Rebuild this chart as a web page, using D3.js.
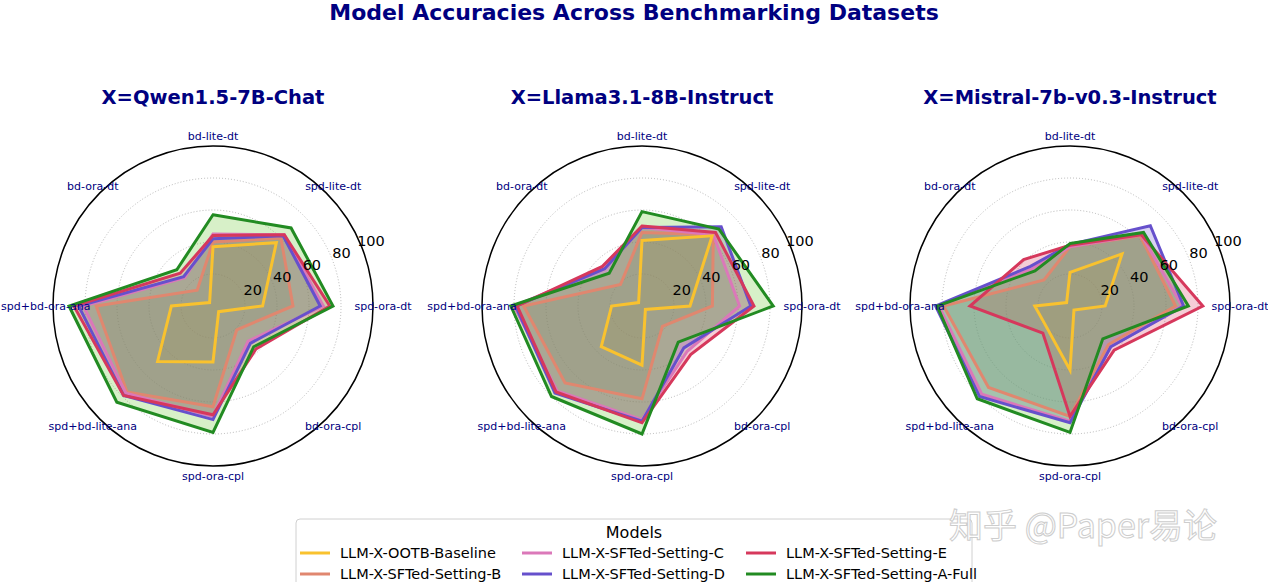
<!DOCTYPE html>
<html>
<head>
<meta charset="UTF-8">
<script src="https://cdnjs.cloudflare.com/ajax/libs/d3/7.8.5/d3.min.js"></script>
<style>
body {margin:0; background:#fff;}
svg text {font-family: "DejaVu Sans", sans-serif;}
.axis-label {font-size:11px; fill:#000080;}
.rtick {font-size:14.5px; fill:#000;}
.sub-title {font-size:19.5px; font-weight:bold; fill:#000080;}
.main-title {font-size:22px; font-weight:bold; fill:#000080;}
.legend text {font-size:14.5px; fill:#000;}
</style>
<title>Model Accuracies</title>
</head>
<body>
<svg id="chart" width="1268" height="582"></svg>
<script>
// benchmark axes, clockwise from top
var categories = ["bd-lite-dt", "spd-lite-dt", "spd-ora-dt", "bd-ora-cpl", "spd-ora-cpl", "spd+bd-lite-ana", "spd+bd-ora-ana", "bd-ora-dt"];
var models = ["LLM-X-OOTB-Baseline", "LLM-X-SFTed-Setting-B", "LLM-X-SFTed-Setting-C", "LLM-X-SFTed-Setting-D", "LLM-X-SFTed-Setting-E", "LLM-X-SFTed-Setting-A-Full"];
var panels = ["X=Qwen1.5-7B-Chat", "X=Llama3.1-8B-Instruct", "X=Mistral-7b-v0.3-Instruct"];
var rTicks = [20, 40, 60, 80, 100];

// one row per model (same order as models)
var qwenValues = [
    [37, 56, 31, 5, 35, 49, 26, 3],
    [40, 60, 50, 21, 63, 76, 73, 14],
    [45, 63, 69, 31, 69, 77, 81, 25],
    [42, 62, 67, 33, 71, 79, 84, 26],
    [44, 63, 73, 38, 68, 79, 87, 29],
    [57, 69, 75, 36, 79, 85, 90, 32]
];
var llamaValues = [
    [41, 62, 30, 3, 37, 36, 19, 3],
    [46, 63, 44, 18, 58, 68, 74, 19],
    [49, 63, 61, 40, 71, 75, 80, 33],
    [49, 70, 68, 37, 72, 77, 79, 33],
    [50, 65, 70, 43, 73, 76, 78, 35],
    [59, 68, 82, 32, 80, 80, 82, 29]
];
var mistralValues = [
    [21, 46, 22, 3.5, 40, 20, 22, 3],
    [37, 62, 66, 34, 69, 72, 79, 23],
    [37, 63, 70, 36, 72, 78, 82, 33],
    [38.5, 71, 71, 36, 73, 80, 84, 35],
    [38, 63, 83, 39, 69, 24, 62.5, 41],
    [39, 65, 74, 29, 79, 82, 83, 31]
];
var panelValues = [qwenValues, llamaValues, mistralValues];

var colors = ["#f9c22e", "#e0876f", "#db78b9", "#6650cc", "#d6385c", "#228b22"];
var fillColors = ["#f9c22e", "#7fa88c", "#6aa684", "#6650cc", "#d6385c", "#5fc323"];

var svg = d3.select("#chart");
var R = 160, cy = 306;
var centersX = [213, 642, 1070];

var r = d3.scaleLinear().domain([0, 100]).range([0, R]);
var angle = d3.scaleLinear().domain([0, categories.length]).range([0, 2 * Math.PI]);

var radar = d3.lineRadial()
    .angle(function(d, i) { return angle(i); })
    .radius(function(d) { return r(d); })
    .curve(d3.curveLinearClosed);

svg.append("text").attr("class", "main-title")
    .attr("x", 634).attr("y", 20).attr("text-anchor", "middle")
    .text("Model Accuracies Across Benchmarking Datasets");

panels.forEach(function(name, p) {
    var g = svg.append("g").attr("transform", "translate(" + centersX[p] + "," + cy + ")");

    svg.append("text").attr("class", "sub-title")
        .attr("x", centersX[p]).attr("y", 104).attr("text-anchor", "middle")
        .text(name);

    // grid rings
    g.selectAll(".ring").data(rTicks.slice(0, -1)).enter().append("circle")
        .attr("r", function(d) { return r(d); })
        .attr("fill", "none").attr("stroke", "#999").attr("stroke-width", 0.7)
        .attr("stroke-dasharray", "1,2");

    var vals = panelValues[p];

    // fills first, then outlines
    g.selectAll(".area").data(vals).enter().append("path")
        .attr("d", function(d) { return radar(d); })
        .attr("fill", function(d, i) { return fillColors[i]; })
        .attr("fill-opacity", 0.25)
        .attr("stroke", "none");

    var lineOrder = [1, 2, 3, 4, 5, 0];
    g.selectAll(".line").data(lineOrder).enter().append("path")
        .attr("d", function(i) { return radar(vals[i]); })
        .attr("fill", "none")
        .attr("stroke", function(i) { return colors[i]; })
        .attr("stroke-width", 3)
        .attr("stroke-linejoin", "miter");

    // outer frame
    g.append("circle").attr("r", r(100)).attr("fill", "none")
        .attr("stroke", "#000").attr("stroke-width", 1.5);

    // radial tick labels at 22.5 deg
    var ta = 22.5 * Math.PI / 180;
    g.selectAll(".rtick").data(rTicks).enter().append("text")
        .attr("class", "rtick")
        .attr("x", function(d) { return (r(d) + 11) * Math.cos(ta); })
        .attr("y", function(d) { return -(r(d) + 11) * Math.sin(ta); })
        .attr("text-anchor", "middle").attr("dy", "0.35em")
        .text(function(d) { return d; });

    // axis labels
    g.selectAll(".axis-label").data(categories).enter().append("text")
        .attr("class", "axis-label")
        .attr("x", function(d, i) { return (R + 10) * Math.sin(angle(i)); })
        .attr("y", function(d, i) { return -(R + 10) * Math.cos(angle(i)); })
        .attr("text-anchor", "middle").attr("dy", "0.35em")
        .text(function(d) { return d; })
        .each(function() {
            // keep the far-left label inside the page
            var bb = this.getBBox();
            var left = centersX[p] + bb.x;
            if (left < 1) d3.select(this).attr("x", +d3.select(this).attr("x") + (1 - left));
        });
});

// legend
var lg = svg.append("g").attr("class", "legend");
lg.append("rect").attr("x", 296).attr("y", 519).attr("width", 676).attr("height", 80)
    .attr("rx", 4).attr("fill", "#fff").attr("fill-opacity", 0.8)
    .attr("stroke", "#d0d0d0");
lg.append("text").attr("x", 634).attr("y", 538).attr("text-anchor", "middle")
    .style("font-size", "16px").text("Models");

var colX = [300, 522, 746];
var rowY = [553, 574];
models.forEach(function(m, i) {
    var cx = colX[Math.floor(i / 2)], yy = rowY[i % 2];
    lg.append("line").attr("x1", cx).attr("x2", cx + 30).attr("y1", yy).attr("y2", yy)
        .attr("stroke", colors[i]).attr("stroke-width", 3);
    lg.append("text").attr("x", cx + 40).attr("y", yy).attr("dy", "0.35em").text(m);
});

// watermark
svg.append("text").attr("x", 1083).attr("y", 538).attr("text-anchor", "middle")
    .style("font-family", "'Noto Sans CJK SC', sans-serif").style("font-size", "34px")
    .attr("fill", "#fff").attr("stroke", "#c8c8c8").attr("stroke-width", 1)
    .attr("opacity", 0.9)
    .text("知乎 @Paper易论");
</script>
</body>
</html>
